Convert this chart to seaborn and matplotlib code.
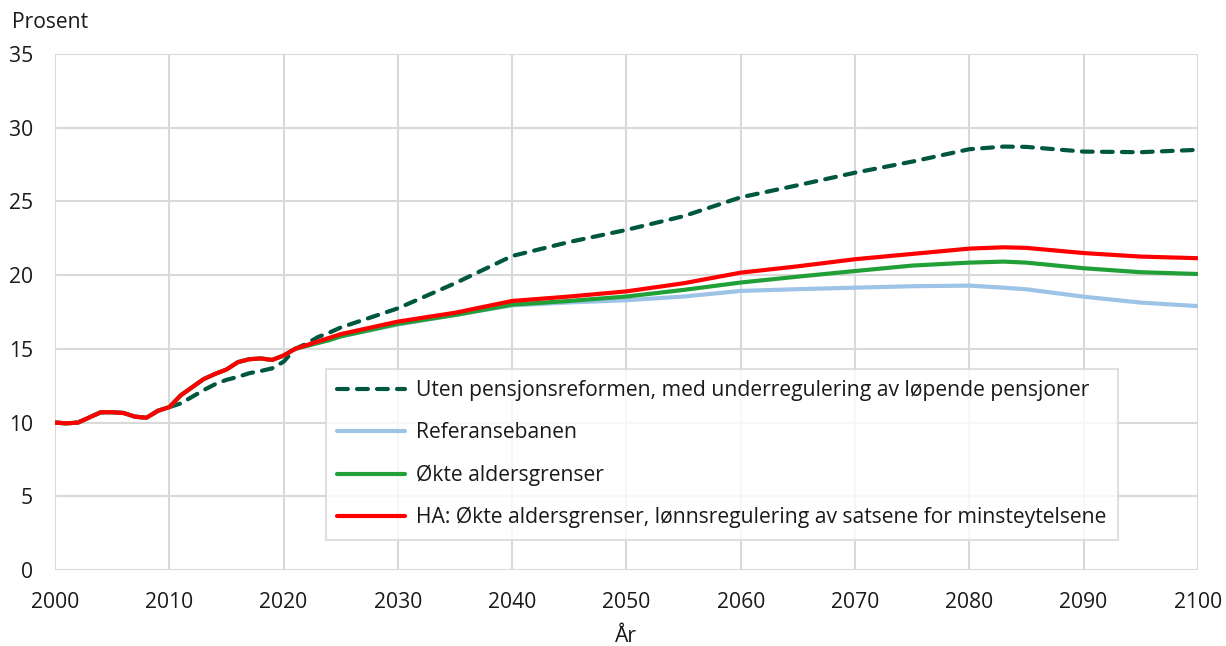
import matplotlib
matplotlib.use("Agg")
import matplotlib.pyplot as plt
import seaborn as sns
import pandas as pd

# ---- data ----
years_early = [2000, 2001, 2002, 2003, 2004, 2005, 2006, 2007, 2008, 2009, 2010,
               2011, 2012, 2013, 2014, 2015, 2016, 2017, 2018, 2019, 2020, 2021,
               2022, 2023, 2024, 2025]
years_late = [2030, 2035, 2040, 2045, 2050, 2055, 2060, 2065, 2070, 2075, 2080,
              2083, 2085, 2090, 2095, 2100]
years = years_early + years_late

uten_reform = [10.0, 9.95, 10.0, 10.35, 10.7, 10.7, 10.65, 10.4, 10.33, 10.8, 11.05,
               11.3, 11.75, 12.2, 12.6, 12.9, 13.1, 13.35, 13.5, 13.68, 14.13, 15.0,
               15.35, 15.8, 16.1, 16.45,
               17.75, 19.45, 21.3, 22.25, 23.07, 24.0, 25.28, 26.1, 26.95, 27.7, 28.54,
               28.72, 28.7, 28.38, 28.34, 28.5]
referanse = [10.0, 9.95, 10.0, 10.35, 10.7, 10.7, 10.65, 10.4, 10.33, 10.8, 11.05,
             11.85, 12.4, 12.95, 13.3, 13.6, 14.1, 14.3, 14.35, 14.25, 14.55, 15.0,
             15.2, 15.4, 15.6, 15.85,
             16.65, 17.3, 17.95, 18.15, 18.3, 18.55, 18.93, 19.05, 19.15, 19.25, 19.29,
             19.15, 19.04, 18.54, 18.14, 17.9]
okte_aldersgrenser = [10.0, 9.95, 10.0, 10.35, 10.7, 10.7, 10.65, 10.4, 10.33, 10.8, 11.05,
                      11.85, 12.4, 12.95, 13.3, 13.6, 14.1, 14.3, 14.35, 14.25, 14.55, 15.0,
                      15.2, 15.4, 15.6, 15.85,
                      16.7, 17.3, 18.0, 18.25, 18.55, 19.0, 19.5, 19.9, 20.28, 20.65, 20.85,
                      20.92, 20.85, 20.47, 20.2, 20.08]
ha_lonnsregulering = [10.0, 9.95, 10.0, 10.35, 10.7, 10.7, 10.65, 10.4, 10.33, 10.8, 11.05,
                      11.85, 12.4, 12.95, 13.3, 13.6, 14.1, 14.3, 14.35, 14.25, 14.55, 15.0,
                      15.25, 15.5, 15.75, 16.0,
                      16.85, 17.45, 18.25, 18.55, 18.9, 19.45, 20.17, 20.6, 21.08, 21.44, 21.8,
                      21.89, 21.85, 21.5, 21.26, 21.15]

labels = [
    "Uten pensjonsreformen, med underregulering av løpende pensjoner",
    "Referansebanen",
    "Økte aldersgrenser",
    "HA: Økte aldersgrenser, lønnsregulering av satsene for minsteytelsene",
]
series = [uten_reform, referanse, okte_aldersgrenser, ha_lonnsregulering]
colors = ["#00573f", "#9dc3e6", "#21a038", "#ff0000"]

x_ticks = list(range(2000, 2101, 10))
y_ticks = list(range(0, 36, 5))

# ---- plot ----
FS = 15.2
sns.set_theme(style="white")
plt.rcParams["font.family"] = ["Open Sans", "DejaVu Sans"]
plt.rcParams["font.size"] = FS

fig = plt.figure(figsize=(12.26, 6.46), dpi=100)
ax = fig.add_axes([0.0449, 0.1176, 0.977 - 0.0449, 0.9164 - 0.1176])

for i, (lab, vals, col) in enumerate(zip(labels, series, colors)):
    df = pd.DataFrame({"År": years, "Prosent": vals})
    line_kw = dict(color=col, linewidth=3.0, label=lab, ax=ax, zorder=3 + i)
    if i == 0:
        sns.lineplot(data=df, x="År", y="Prosent", linestyle=(0, (2.6, 2.2)),
                     dash_capstyle="round", **line_kw)
    else:
        sns.lineplot(data=df, x="År", y="Prosent", solid_capstyle="round", **line_kw)

ax.set_xlim(2000, 2100)
ax.set_ylim(0, 35)
ax.set_xticks(x_ticks)
ax.set_yticks(y_ticks)
ax.grid(True, color="#d9d9d9", linewidth=1.5)
for s in ax.spines.values():
    s.set_visible(False)
ax.tick_params(axis="both", length=0, labelsize=FS, colors="#1a1a1a")
ax.tick_params(axis="x", pad=16)
ax.tick_params(axis="y", pad=16)
ax.set_xlabel("År", fontsize=FS, color="#1a1a1a", labelpad=9)
ax.set_ylabel("")
fig.text(0.010, 0.965, "Prosent", fontsize=FS, color="#1a1a1a", va="center", ha="left")

leg = ax.legend(loc="lower left", bbox_to_anchor=(0.237, 0.058), frameon=True,
                fancybox=False, edgecolor="#d9d9d9", fontsize=FS,
                handlelength=3.2, handletextpad=0.5, labelspacing=1.0,
                borderpad=0.55, borderaxespad=0)
leg.get_frame().set_linewidth(1.5)
for t in leg.get_texts():
    t.set_color("#1a1a1a")

fig.savefig("out.png", dpi=100)
